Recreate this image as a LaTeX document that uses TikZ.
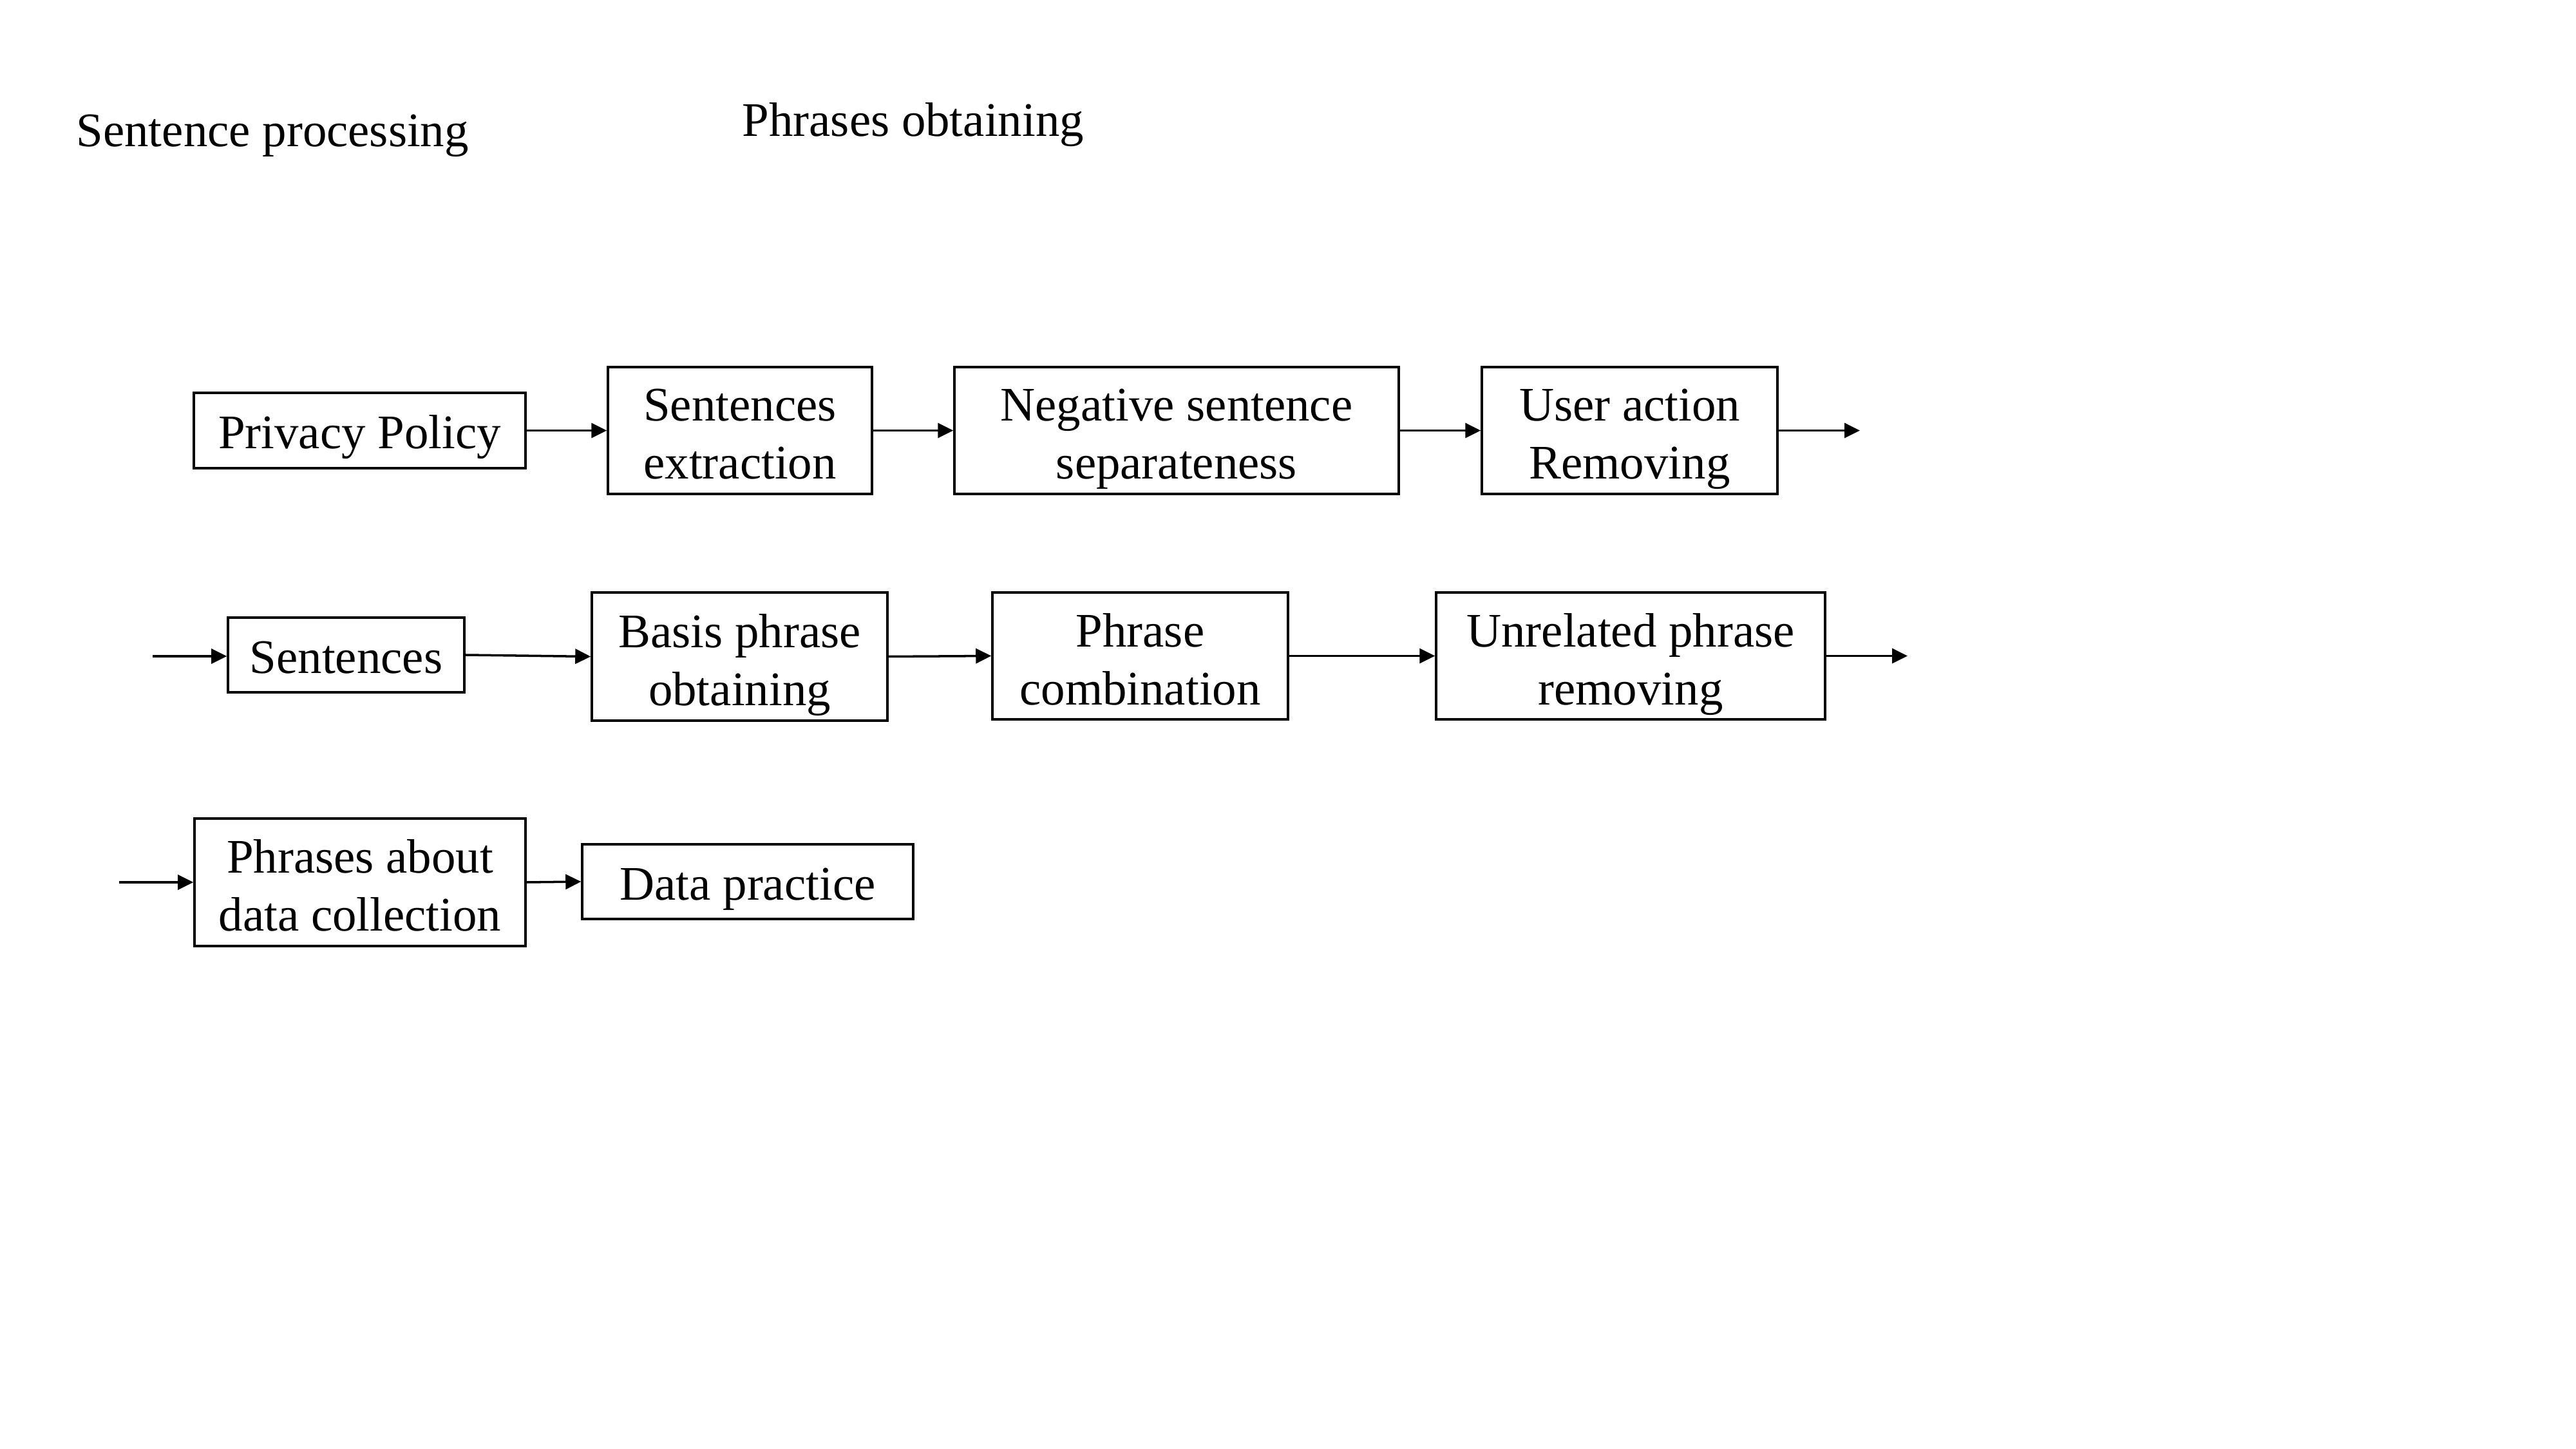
\documentclass[tikz,border=0pt]{standalone}
\usepackage{fontspec}
\setmainfont{Liberation Serif}
\usetikzlibrary{arrows.meta}
\begin{document}
\begin{tikzpicture}[
  box/.style={draw, line width=1pt, inner sep=0pt, fill=white},
  txt/.style={font=\fontsize{21.3}{25.6}\selectfont, align=center, inner sep=0pt, yshift=-0.105cm,
    execute at begin node=\strut, execute at end node=\strut},
  txttwo/.style={txt, yshift=-0.08cm},
  title/.style={font=\fontsize{21.3}{25.6}\selectfont, inner sep=0pt, anchor=base west},
  flow/.style={line width=1pt, -{Triangle[length=0.24cm,width=0.23cm]}}
]
\useasboundingbox[fill=white] (0,0) rectangle (40,-22.5);

\node[title] (t1) at (1.18,-2.28) {Sentence processing};
\node[title] (t2) at (11.52,-2.12) {Phrases obtaining};

% row 1
\node[box, minimum width=5.15cm, minimum height=1.17cm, label={[txt]center:{Privacy Policy}}] (pp) at (5.585,-6.685) {};
\node[box, minimum width=4.10cm, minimum height=1.97cm, label={[txttwo]center:{Sentences\\extraction}}] (se) at (11.49,-6.685) {};
\node[box, minimum width=6.90cm, minimum height=1.97cm, label={[txttwo]center:{Negative sentence\\separateness}}] (neg) at (18.27,-6.685) {};
\node[box, minimum width=4.59cm, minimum height=1.97cm, label={[txttwo]center:{User action\\Removing}}] (ua) at (25.305,-6.685) {};
\coordinate (o1) at (28.88,-6.685);

% row 2
\coordinate (i2) at (2.37,-10.19);
\node[box, minimum width=3.67cm, minimum height=1.16cm, label={[txt]center:{Sentences}}] (sent) at (5.375,-10.17) {};
\node[box, minimum width=4.59cm, minimum height=1.99cm, label={[txttwo]center:{Basis phrase\\obtaining}}] (bp) at (11.485,-10.195) {};
\node[box, minimum width=4.59cm, minimum height=1.97cm, label={[txttwo]center:{Phrase\\combination}}] (pc) at (17.705,-10.185) {};
\node[box, minimum width=6.04cm, minimum height=1.97cm, label={[txttwo]center:{Unrelated phrase\\removing}}] (ur) at (25.32,-10.185) {};
\coordinate (o2) at (29.62,-10.185);

% row 3
\coordinate (i3) at (1.85,-13.70);
\node[box, minimum width=5.14cm, minimum height=1.98cm, label={[txttwo]center:{Phrases about\\data collection}}] (pa) at (5.59,-13.70) {};
\node[box, minimum width=5.14cm, minimum height=1.16cm, label={[txt]center:{Data practice}}] (dp) at (11.61,-13.69) {};

% connectors
\draw[flow] (pp.east) -- (se.west);
\draw[flow] (se.east) -- (neg.west);
\draw[flow] (neg.east) -- (ua.west);
\draw[flow] (ua.east) -- (o1);

\draw[flow] (i2) -- (sent.west |- i2);
\draw[flow] (sent.east) -- (bp.west);
\draw[flow] (bp.east) -- (pc.west);
\draw[flow] (pc.east) -- (ur.west);
\draw[flow] (ur.east) -- (o2);

\draw[flow] (i3) -- (pa.west);
\draw[flow] (pa.east) -- (dp.west);
\end{tikzpicture}
\end{document}
